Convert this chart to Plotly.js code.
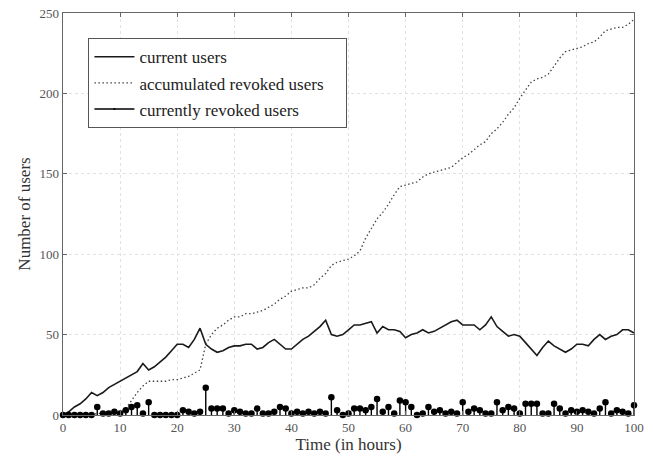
<!DOCTYPE html>
<html>
<head>
<meta charset="utf-8">
<script src="https://cdn.plot.ly/plotly-3.0.1.min.js"></script>
<style>html,body{margin:0;padding:0;background:#fff;}#chart{width:653px;height:457px;}</style>
</head>
<body>
<div id="chart"></div>
<script>
// Time in hours (0..100)
const hours = [];
for (let h = 0; h <= 100; h++) hours.push(h);

const currentUsers = [0,2,5,7,10,14,12,14,17,19,21,23,25,27,32,28,30,33,36,40,44,44,42,47,54,44,41,39,40,42,43,43,44,44,41,42,45,47,44,41,41,44,47,49,52,55,59,50,49,50,53,56,56,57,58,51,55,53,53,52,48,50,51,53,51,52,54,56,58,59,56,56,56,53,56,61,55,52,49,50,49,45,41,37,42,46,43,41,39,41,44,44,43,47,50,47,49,50,53,53,51];

const accumulatedRevoked = [0,0,0,0,0,0,1,1,1,1,2,4,9,14,18,21,21,21,21,22,22,23,24,26,28,44,50,54,56,59,61,61,63,63,64,65,67,69,72,74,77,78,79,79,81,85,88,93,95,96,97,99,102,110,116,122,126,131,137,142,143,144,145,148,150,151,152,153,154,157,160,162,165,168,170,175,178,182,187,191,197,202,207,209,210,212,217,222,226,227,228,229,231,232,235,239,240,241,241,243,246];

const currentlyRevoked = [0,0,0,0,0,0,5,1,1,2,1,3,5,6,1,8,0,0,0,0,0,3,2,1,2,17,4,4,4,1,3,2,1,1,4,1,1,2,5,4,1,2,1,2,1,2,1,11,3,0,1,4,4,3,5,10,2,5,1,9,8,5,0,1,5,2,3,1,2,1,8,2,4,3,1,1,8,3,5,4,1,7,7,7,1,1,7,4,1,3,2,3,2,1,4,8,1,3,2,1,6];

const seriesNames = ['current users', 'accumulated revoked users\u00a0\u00a0\u00a0\u00a0', 'currently revoked users'];
const xTicks = [0,10,20,30,40,50,60,70,80,90,100];
const yTicks = [0,50,100,150,200,250];

// build stem geometry from the data arrays
const stemX = [], stemY = [], stemSize = [];
hours.forEach((h, i) => {
  stemX.push(h, h, null);
  stemY.push(0, currentlyRevoked[i], null);
  stemSize.push(0, 6.5, 0);
});

const traces = [
  {x: hours, y: currentUsers, name: seriesNames[0], type: 'scatter', mode: 'lines',
   line: {color: '#1a1a1a', width: 1.6}, legendgroup: 'a'},
  {x: hours, y: accumulatedRevoked, name: seriesNames[1], type: 'scatter', mode: 'lines',
   line: {color: '#444', width: 1.3, dash: '1.5px,2.5px'}, legendgroup: 'b'},
  {x: stemX, y: stemY, name: seriesNames[2], type: 'scatter', mode: 'lines+markers',
   line: {color: '#000', width: 1.4},
   marker: {color: '#000', size: stemSize, opacity: 1, line: {width: 0}},
   cliponaxis: false, connectgaps: false, legendgroup: 'c'}
];

const axisCommon = {
  showline: true, mirror: 'ticks', linecolor: '#666', linewidth: 1.3,
  ticks: 'inside', ticklen: 4, tickcolor: '#666',
  showgrid: true, gridcolor: '#e2e2e2', griddash: 'dot', gridwidth: 1,
  zeroline: false, tickfont: {family: 'Liberation Serif', size: 13, color: '#555'}
};

const layout = {
  width: 653, height: 457,
  margin: {l: 63, r: 19, t: 13, b: 42},
  paper_bgcolor: '#fff', plot_bgcolor: '#fff',
  font: {family: 'Liberation Serif', color: '#333'},
  showlegend: true,
  legend: {x: 0.044, y: 0.938, xanchor: 'left', yanchor: 'top',
    bgcolor: '#fff', bordercolor: '#555', borderwidth: 1.3,
    font: {family: 'Liberation Serif', size: 17, color: '#222'},
    itemwidth: 40,
    traceorder: 'grouped', tracegroupgap: 1},
  xaxis: Object.assign({}, axisCommon, {range: [0, 100], tickvals: xTicks,
    title: {text: 'Time (in hours)', font: {family: 'Liberation Serif', size: 17, color: '#333'}, standoff: 2}}),
  yaxis: Object.assign({}, axisCommon, {range: [0, 250], tickvals: yTicks,
    title: {text: 'Number of users', font: {family: 'Liberation Serif', size: 17, color: '#333'}, standoff: 4}})
};

Plotly.newPlot('chart', traces, layout, {displayModeBar: false, staticPlot: true});
</script>
</body>
</html>
